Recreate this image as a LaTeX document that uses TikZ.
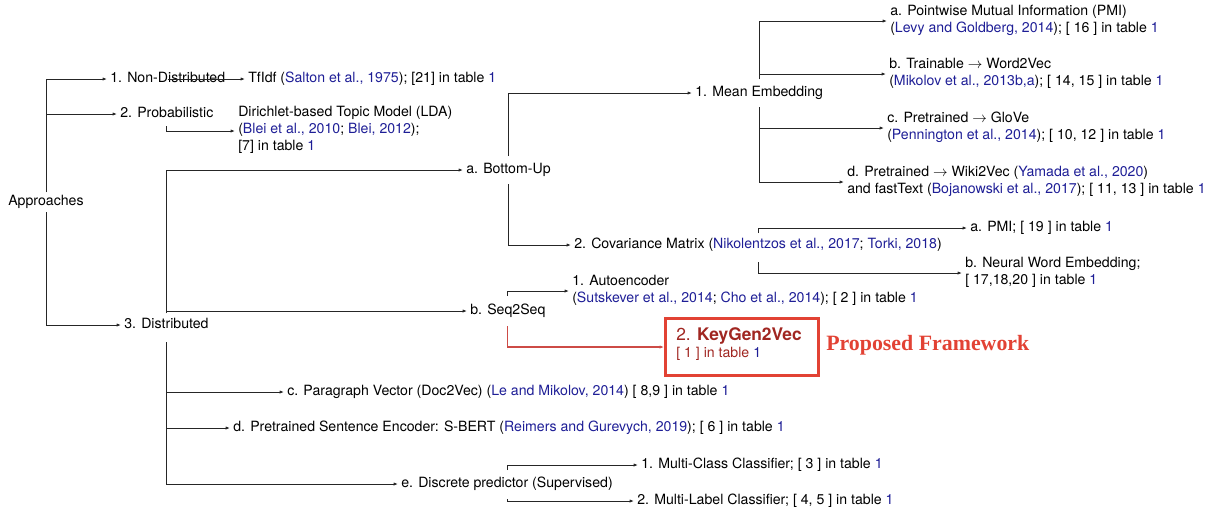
\documentclass[tikz,border=0pt]{standalone}
\usepackage{fontspec}
\setmainfont{TeX Gyre Heros}
\newfontfamily\pffont{Liberation Serif}
\usetikzlibrary{arrows.meta}
\definecolor{citeblue}{RGB}{30,30,150}
\definecolor{boxred}{RGB}{226,66,52}
\definecolor{darkred}{RGB}{160,38,33}
\definecolor{linkred}{RGB}{205,75,70}
\newcommand{\mycite}[1]{\textcolor{citeblue}{#1}}
\begin{document}
\begin{tikzpicture}[x=0.75pt,y=-0.75pt,
  lbl/.style={anchor=west,inner ysep=0pt,inner xsep=2.25pt,align=left,
    font=\fontsize{10.6}{12.75}\selectfont,
    execute at begin node=\strut,execute at end node=\strut},
  arr/.style={draw=black!85,line width=0.65pt,-{Latex[length=3.2pt,width=2.4pt]}},
  redarr/.style={draw=linkred,line width=0.8pt,-{Latex[length=3.2pt,width=2.4pt]}},
  kgbx/.style={draw=boxred,line width=2.25pt,minimum width=114.75pt,minimum height=42.75pt,inner sep=0pt},
  kglbl/.style={anchor=west,inner sep=0pt,text=darkred},
]
\useasboundingbox (0,0) rectangle (1210,512);

% nodes
\node[lbl] (app) at (5,202) {Approaches};
\node[lbl] (nd) at (107,79) {1. Non-Distributed};
\node[lbl] (tfidf) at (245,79) {TfIdf (\mycite{Salton et al., 1975}); [21] in table \mycite{1}};
\node[lbl] (prob) at (117,114) {2. Probabilistic};
\node[lbl] (lda) at (235,131) {Dirichlet-based Topic Model (LDA)\\(\mycite{Blei et al., 2010}; \mycite{Blei, 2012});\\{}[7] in table \mycite{1}};
\node[lbl] (dist) at (121,325) {3. Distributed};
\node[lbl] (bu) at (463,170) {a. Bottom-Up};
\node[lbl] (s2s) at (467,311) {b. Seq2Seq};
\node[lbl] (pv) at (284,392) {c. Paragraph Vector (Doc2Vec) (\mycite{Le and Mikolov, 2014}) [ 8,9 ] in table \mycite{1}};
\node[lbl] (sb) at (230,428) {d. Pretrained Sentence Encoder: S-BERT (\mycite{Reimers and Gurevych, 2019}); [ 6 ] in table \mycite{1}};
\node[lbl] (dp) at (398,484) {e. Discrete predictor (Supervised)};
\node[lbl] (me) at (692,93) {1. Mean Embedding};
\node[lbl] (cov) at (571,245) {2. Covariance Matrix (\mycite{Nikolentzos et al., 2017}; \mycite{Torki, 2018})};
\node[lbl] (pmi) at (887,21) {a. Pointwise Mutual Information (PMI)\\(\mycite{Levy and Goldberg, 2014}); [ 16 ] in table \mycite{1}};
\node[lbl] (w2v) at (886,74) {b. Trainable $\rightarrow$ Word2Vec\\(\mycite{Mikolov et al., 2013b,a}); [ 14, 15 ] in table \mycite{1}};
\node[lbl] (glove) at (884,128) {c. Pretrained $\rightarrow$ GloVe\\(\mycite{Pennington et al., 2014}); [ 10, 12 ] in table \mycite{1}};
\node[lbl] (wiki) at (844,182) {d. Pretrained $\rightarrow$ Wiki2Vec (\mycite{Yamada et al., 2020})\\and fastText (\mycite{Bojanowski et al., 2017}); [ 11, 13 ] in table \mycite{1}};
\node[lbl] (cpmi) at (967,228) {a. PMI; [ 19 ] in table \mycite{1}};
\node[lbl] (nwe) at (962,273) {b. Neural Word Embedding;\\{}[ 17,18,20 ] in table \mycite{1}};
\node[lbl] (ae) at (569,291) {1. Autoencoder\\(\mycite{Sutskever et al., 2014}; \mycite{Cho et al., 2014}); [ 2 ] in table \mycite{1}};
\node[lbl] (mcc) at (638,465) {1. Multi-Class Classifier; [ 3 ] in table \mycite{1}};
\node[lbl] (mlc) at (634,501) {2. Multi-Label Classifier; [ 4, 5 ] in table \mycite{1}};

\node[kgbx] (kgbox) at (742,347) {};
\node[kglbl,font=\fontsize{13}{15}\selectfont] (kgt1) at (676,336) {2. \textbf{KeyGen2Vec}};
\node[kglbl,font=\fontsize{10.6}{12.75}\selectfont] (kgt2) at (676,354) {[ 1 ] in table \mycite{1}};
\node[anchor=west,inner sep=0pt,text=boxred,font=\pffont\bfseries\fontsize{16.4}{18}\selectfont] (pf) at (826,345) {Proposed Framework};

% connectors
\draw[arr] (app.center) ++(0,-10) |- (nd.west);
\draw[arr] (app.center) ++(0,-10) |- (prob.west);
\draw[arr] (app.center) ++(0,10) |- (dist.west);
\draw[arr] (nd.center) -- (nd.center -| tfidf.west);
\draw[arr] (prob.center) ++(0,12) |- (lda.west);
\draw[arr] (dist.center) ++(0,-12) |- (bu.west);
\draw[arr] (dist.center) ++(0,-12) |- (s2s.west);
\draw[arr] (dist.center) ++(0,17) |- (pv.west);
\draw[arr] (dist.center) ++(0,17) |- (sb.west);
\draw[arr] (dist.center) ++(0,17) |- (dp.west);
\draw[arr] (bu.center) ++(0,-14) |- (me.west);
\draw[arr] (bu.center) ++(0,14) |- (cov.west);
\draw[arr] (me.center) ++(0,-14) |- (pmi.west);
\draw[arr] (me.center) ++(0,-14) |- (w2v.west);
\draw[arr] (me.center) ++(0,14) |- (glove.west);
\draw[arr] (me.center) ++(0,14) |- (wiki.west);
\draw[arr] (cov.center) ++(0,-12) |- (cpmi.west);
\draw[arr] (cov.center) ++(0,17) |- (nwe.west);
\draw[arr] (s2s.center) ++(0,-15) |- (ae.west);
\draw[redarr] (s2s.center) ++(0,15) |- (kgbox.west);
\draw[arr] (dp.center) ++(0,-14) |- (mcc.west);
\draw[arr] (dp.center) ++(0,15) |- (mlc.west);
\end{tikzpicture}
\end{document}
